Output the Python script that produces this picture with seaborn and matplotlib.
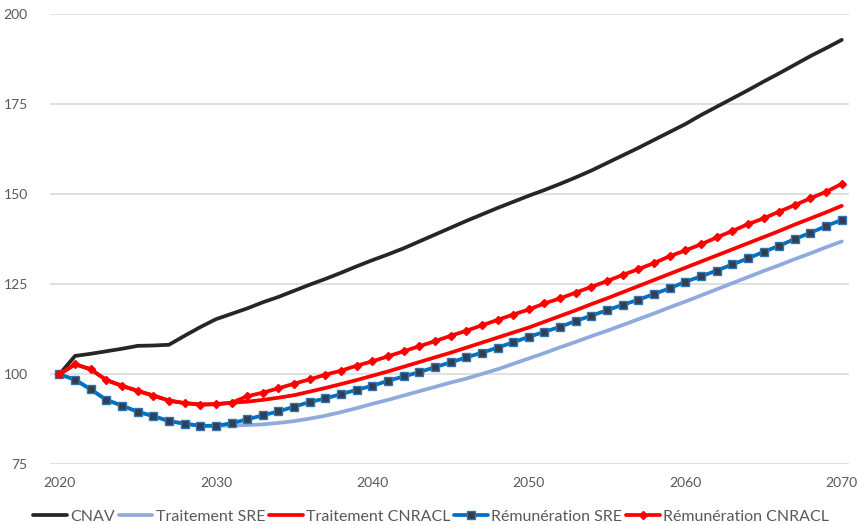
import matplotlib
matplotlib.use("Agg")
import matplotlib.pyplot as plt
import seaborn as sns

years = list(range(2020, 2071))

cnav = [100.0, 105.1, 105.7, 106.4, 107.1, 107.9, 108.0, 108.2, 110.7, 113.1,
        115.3, 116.8, 118.3, 120.0, 121.5, 123.2, 124.9, 126.5, 128.2, 130.0,
        131.7, 133.3, 135.0, 136.9, 138.8, 140.7, 142.6, 144.4, 146.2, 147.9,
        149.6, 151.2, 152.9, 154.7, 156.6, 158.7, 160.8, 162.9, 165.1, 167.3,
        169.5, 172.0, 174.3, 176.6, 178.9, 181.3, 183.6, 186.0, 188.4, 190.6,
        192.9]

traitement_sre = [100.0, 98.5, 95.8, 92.9, 91.3, 89.6, 88.4, 87.0, 86.3, 85.7,
                  85.7, 85.8, 85.9, 86.1, 86.5, 87.0, 87.7, 88.5, 89.5, 90.6,
                  91.8, 92.9, 94.1, 95.3, 96.5, 97.7, 98.8, 100.1, 101.4, 102.9,
                  104.4, 105.9, 107.5, 109.0, 110.6, 112.1, 113.7, 115.3, 116.9, 118.6,
                  120.2, 121.9, 123.6, 125.3, 127.0, 128.7, 130.3, 132.0, 133.6, 135.3,
                  136.9]

traitement_cnracl = [100.0, 102.8, 101.4, 98.4, 96.8, 95.4, 94.1, 92.7, 92.0, 91.6,
                     91.7, 92.1, 92.4, 92.9, 93.5, 94.2, 95.2, 96.2, 97.3, 98.4,
                     99.6, 100.8, 102.1, 103.4, 104.7, 106.0, 107.4, 108.8, 110.2, 111.6,
                     113.0, 114.6, 116.2, 117.8, 119.5, 121.1, 122.8, 124.5, 126.2, 127.9,
                     129.6, 131.3, 133.0, 134.7, 136.4, 138.1, 139.8, 141.6, 143.3, 145.0,
                     146.8]

remuneration_sre = [100.0, 98.5, 95.8, 92.9, 91.3, 89.6, 88.4, 87.0, 86.3, 85.7,
                    85.7, 86.4, 87.5, 88.6, 89.7, 91.0, 92.3, 93.3, 94.5, 95.7,
                    96.8, 98.2, 99.4, 100.6, 102.0, 103.3, 104.7, 106.0, 107.4, 108.9,
                    110.4, 111.8, 113.2, 114.8, 116.3, 117.8, 119.3, 120.7, 122.3, 123.9,
                    125.7, 127.2, 128.8, 130.5, 132.2, 134.0, 135.7, 137.6, 139.3, 141.2,
                    142.9]

remuneration_cnracl = [100.0, 102.8, 101.4, 98.4, 96.8, 95.4, 94.1, 92.7, 92.0, 91.6,
                       91.7, 92.1, 93.9, 94.9, 96.1, 97.4, 98.6, 99.9, 101.0, 102.4,
                       103.6, 105.0, 106.4, 107.8, 109.2, 110.7, 112.1, 113.6, 115.1, 116.6,
                       118.0, 119.7, 121.1, 122.7, 124.3, 125.9, 127.6, 129.2, 130.9, 132.8,
                       134.4, 136.1, 138.0, 139.8, 141.7, 143.3, 145.2, 147.0, 148.9, 150.7,
                       152.9]

x_ticks = [2020, 2030, 2040, 2050, 2060, 2070]
y_ticks = [75, 100, 125, 150, 175, 200]

sns.set_theme(style="white")
plt.rcParams["font.family"] = ["Lato", "DejaVu Sans"]

fig = plt.figure(figsize=(8.58, 5.25), dpi=100)
ax = fig.add_axes([0.0583, 0.1156, 0.9312, 0.8572])

lw = 2.7
sns.lineplot(x=years, y=cnav, ax=ax, color="#262626", linewidth=lw,
             label="CNAV", zorder=3)
sns.lineplot(x=years, y=traitement_sre, ax=ax, color="#8FAADC", linewidth=lw,
             label="Traitement SRE", zorder=3)
sns.lineplot(x=years, y=traitement_cnracl, ax=ax, color="#FF0000", linewidth=lw,
             label="Traitement CNRACL", zorder=3)
sns.lineplot(x=years, y=remuneration_sre, ax=ax, color="#0070C0", linewidth=lw,
             marker="s", markersize=6, markerfacecolor="#333F50",
             markeredgecolor="#2E75B6", markeredgewidth=1.0,
             label="Rémunération SRE", zorder=4)
sns.lineplot(x=years, y=remuneration_cnracl, ax=ax, color="#FF0000", linewidth=lw,
             marker="D", markersize=4.5, markerfacecolor="#FF0000",
             markeredgecolor="#FF0000", markeredgewidth=1.0,
             label="Rémunération CNRACL", zorder=5)

ax.set_xlim(2019.4, 2070.46)
ax.set_ylim(75, 200)
ax.set_xticks(x_ticks)
ax.set_yticks(y_ticks)
ax.set_xlabel("")
ax.set_ylabel("")

ax.grid(axis="y", color="#D9D9D9", linewidth=1.1)
ax.grid(axis="x", visible=False)
for side in ["top", "right", "left", "bottom"]:
    ax.spines[side].set_visible(False)

ax.tick_params(axis="both", length=0, labelsize=10, labelcolor="#595959")
ax.tick_params(axis="y", pad=16)
ax.tick_params(axis="x", pad=9)

ax.legend(loc="center", bbox_to_anchor=(0.477, -0.117), ncol=5,
          frameon=False, fontsize=11.5, handlelength=2.1, handletextpad=0.2,
          columnspacing=0.25, labelcolor="#595959")

fig.savefig("out.png", dpi=100)
